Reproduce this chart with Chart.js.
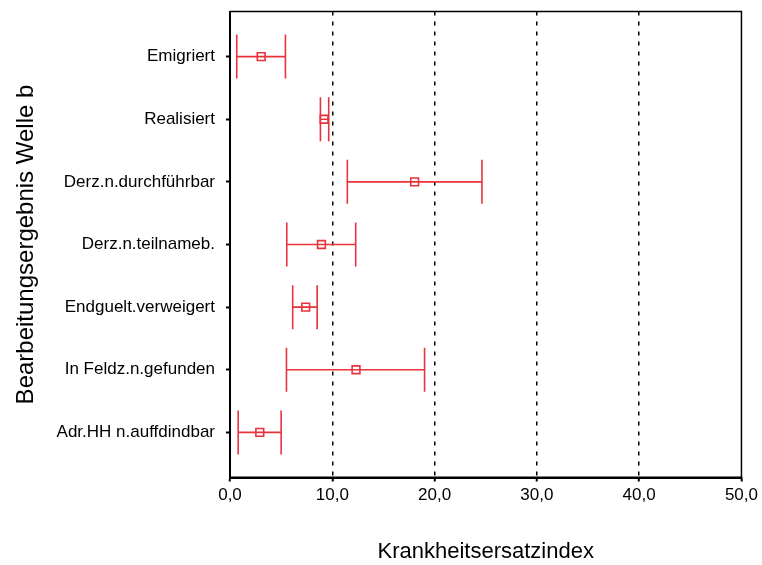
<!DOCTYPE html>
<html>
<head>
<meta charset="utf-8">
<script src="https://cdn.jsdelivr.net/npm/chart.js@4"></script>
<style>
    html, body { margin: 0; padding: 0; background: #fff; }
    canvas { display: block; }
</style>
</head>
<body>
<canvas id="myChart" width="762" height="565"></canvas>
<script>
const categories = [
    'Emigriert',
    'Realisiert',
    'Derz.n.durchführbar',
    'Derz.n.teilnameb.',
    'Endguelt.verweigert',
    'In Feldz.n.gefunden',
    'Adr.HH n.auffdindbar'
];
const means = [3.05, 9.2, 18.05, 8.94, 7.40, 12.32, 2.91];
const lows = [0.66, 8.84, 11.47, 5.55, 6.13, 5.52, 0.80];
const highs = [5.42, 9.65, 24.63, 12.29, 8.52, 19.02, 5.00];
const xTicks = [0, 10, 20, 30, 40, 50];

const RED = '#e8323c';
const FONT = 'Liberation Sans, Arial, sans-serif';

// horizontal whiskers with end caps, drawn under the square markers
const errorBars = {
    id: 'errorBars',
    beforeDatasetsDraw(chart) {
        const { ctx, scales: { x, y } } = chart;
        ctx.save();
        ctx.strokeStyle = RED;
        ctx.lineWidth = 1.6;
        categories.forEach((c, i) => {
            const py = y.getPixelForValue(i);
            const x1 = x.getPixelForValue(lows[i]);
            const x2 = x.getPixelForValue(highs[i]);
            ctx.beginPath();
            ctx.moveTo(x1, py);
            ctx.lineTo(x2, py);
            ctx.moveTo(x1, py - 22);
            ctx.lineTo(x1, py + 22);
            ctx.moveTo(x2, py - 22);
            ctx.lineTo(x2, py + 22);
            ctx.stroke();
        });
        ctx.restore();
    }
};

// solid frame round the plot area (grid lines are dashed)
const frame = {
    id: 'frame',
    afterDraw(chart) {
        const { ctx, chartArea: a } = chart;
        ctx.save();
        ctx.strokeStyle = '#000';
        ctx.setLineDash([]);
        ctx.lineWidth = 1.5;
        ctx.beginPath();
        ctx.moveTo(a.left, a.top);
        ctx.lineTo(a.right, a.top);
        ctx.lineTo(a.right, a.bottom);
        ctx.stroke();
        ctx.lineWidth = 2;
        ctx.beginPath();
        ctx.moveTo(a.left, a.top);
        ctx.lineTo(a.left, a.bottom);
        ctx.lineTo(a.right, a.bottom);
        ctx.stroke();
        ctx.restore();
    }
};

const ctx = document.getElementById('myChart').getContext('2d');
new Chart(ctx, {
    type: 'scatter',
    data: {
        datasets: [{
            data: means.map((m, i) => ({ x: m, y: i })),
            pointStyle: 'rect',
            pointRadius: 5.5,
            borderColor: RED,
            borderWidth: 1.6,
            backgroundColor: 'rgba(0,0,0,0)'
        }]
    },
    options: {
        responsive: false,
        animation: false,
        layout: { padding: { left: 0, right: 20, top: 11.5, bottom: 0 } },
        plugins: {
            legend: { display: false },
            tooltip: { enabled: false }
        },
        scales: {
            x: {
                type: 'linear',
                min: 0,
                max: 50,
                afterFit: scale => { scale.height = 87.5; },
                afterBuildTicks: scale => { scale.ticks = xTicks.map(v => ({ value: v })); },
                grid: {
                    color: c => (c.tick && (c.tick.value === 0 || c.tick.value === 50)) ? 'rgba(0,0,0,0)' : '#000',
                    lineWidth: 1.5,
                    tickLength: 4,
                    tickColor: '#000',
                    tickWidth: 2
                },
                border: { display: true, color: '#000', width: 2, dash: [4, 6] },
                ticks: {
                    color: '#000',
                    padding: 4,
                    font: { family: FONT, size: 17 },
                    callback: v => v.toFixed(1).replace('.', ',')
                },
                title: {
                    display: true,
                    text: 'Krankheitsersatzindex',
                    color: '#000',
                    font: { family: FONT, size: 22 },
                    padding: { top: 0, bottom: 0 }
                }
            },
            y: {
                type: 'linear',
                min: -0.72,
                max: 6.72,
                reverse: true,
                afterFit: scale => {
                    scale.width = 230;
                    scale.paddingTop = 0;
                    scale.paddingBottom = 0;
                },
                afterBuildTicks: scale => { scale.ticks = categories.map((c, i) => ({ value: i })); },
                grid: {
                    drawOnChartArea: false,
                    tickLength: 4,
                    tickColor: '#000',
                    tickWidth: 2
                },
                border: { display: true, color: '#000', width: 2 },
                ticks: {
                    color: '#000',
                    padding: 11,
                    font: { family: FONT, size: 17 },
                    callback: v => categories[v]
                },
                title: {
                    display: true,
                    text: 'Bearbeitungsergebnis Welle b',
                    color: '#000',
                    font: { family: FONT, size: 24 },
                    padding: { top: 12, bottom: 0 }
                }
            }
        }
    },
    plugins: [errorBars, frame]
});
</script>
</body>
</html>
